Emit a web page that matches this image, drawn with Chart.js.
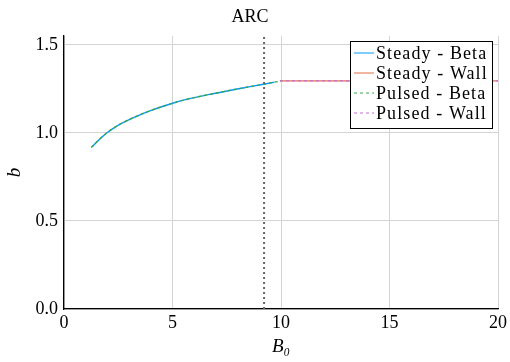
<!DOCTYPE html>
<html>
<head>
<meta charset="utf-8">
<script src="https://cdn.jsdelivr.net/npm/chart.js@4/dist/chart.umd.min.js"></script>
<style>
  html, body { margin: 0; padding: 0; background: #fff; }
  #wrap { width: 510px; height: 362px; }
</style>
</head>
<body>
<div id="wrap"><canvas id="arc"></canvas></div>
<script>
// data
var betaX   = [1.26, 1.57, 1.91, 2.49, 3.26, 4.02, 5.0, 5.55, 6.85, 8.38, 9.2, 9.7, 10.0];
var betaY   = [0.918, 0.955, 0.994, 1.043, 1.090, 1.128, 1.168, 1.187, 1.222, 1.258, 1.276, 1.288, 1.294];
var wallX   = [9.95, 12.5, 15, 17.5, 20];
var wallY   = [1.295, 1.295, 1.295, 1.295, 1.295];
var vlineX  = [9.22, 9.22];
var vlineY  = [0, 1.55];
var xTicks  = [0, 5, 10, 15, 20];
var yTicks  = [0, 0.5, 1.0, 1.5];
var seriesNames = ['Steady - Beta', 'Steady - Wall', 'Pulsed - Beta', 'Pulsed - Wall'];

var FONT = "'Liberation Serif', 'DejaVu Serif', serif";

function pts(xs, ys) {
  return xs.map(function(x, i) { return {x: x, y: ys[i]}; });
}

// legend drawn inside the plot, top right
var legendBox = {
  id: 'legendBox',
  afterDatasetsDraw: function(chart) {
    var ctx = chart.ctx;
    var x0 = 350, y0 = 41, w = 142, h = 87;
    ctx.save();
    ctx.fillStyle = '#fff';
    ctx.fillRect(x0, y0, w, h);
    ctx.strokeStyle = '#000';
    ctx.lineWidth = 1;
    ctx.strokeRect(x0 + 0.5, y0 + 0.5, w, h);
    ctx.font = '18px ' + FONT;
    ctx.letterSpacing = '1.1px';
    ctx.textBaseline = 'middle';
    for (var i = 0; i < 4; i++) {
      var ds = chart.data.datasets[i];
      var y = y0 + 12 + i * 20;
      ctx.beginPath();
      ctx.strokeStyle = ds.borderColor;
      ctx.lineWidth = 1;
      ctx.setLineDash(ds.borderDash || []);
      ctx.moveTo(x0 + 4, y);
      ctx.lineTo(x0 + 24, y);
      ctx.stroke();
      ctx.setLineDash([]);
      ctx.fillStyle = '#000';
      ctx.fillText(ds.label, x0 + 26, y + 1);
    }
    ctx.restore();
  }
};

var ctx = document.getElementById('arc').getContext('2d');
var chart = new Chart(ctx, {
  type: 'scatter',
  data: {
    datasets: [
      { label: seriesNames[0], data: pts(betaX.slice(0, -1), betaY.slice(0, -1)), borderColor: '#009AFA', borderWidth: 1.4, order: 3, cubicInterpolationMode: 'monotone' },
      { label: seriesNames[1], data: pts(wallX, wallY), borderColor: '#E36F47', borderWidth: 1.4, order: 3 },
      { label: seriesNames[2], data: pts(betaX, betaY), borderColor: '#3EA44E', borderWidth: 1.4, borderDash: [3, 3], order: 2, cubicInterpolationMode: 'monotone' },
      { label: seriesNames[3], data: pts(wallX, wallY), borderColor: '#C371D2', borderWidth: 1.4, borderDash: [3, 3], order: 2 },
      { label: 'limit', data: pts(vlineX, vlineY), borderColor: '#666', borderWidth: 2, borderDash: [2, 3], order: 1 }
    ]
  },
  options: {
    responsive: true,
    maintainAspectRatio: false,
    animation: false,
    showLine: true,
    elements: { point: { radius: 0 } },
    layout: { padding: { right: 10, left: 0, bottom: 0 } },
    plugins: {
      legend: { display: false },
      tooltip: { enabled: false },
      title: {
        display: true,
        text: 'ARC',
        color: '#000',
        font: { family: FONT, size: 18, weight: 'normal', lineHeight: 1.2 },
        padding: { top: 6, bottom: 8.4 }
      }
    },
    scales: {
      x: {
        type: 'linear',
        min: 0, max: 20,
        afterBuildTicks: function(s) { s.ticks = xTicks.map(function(v) { return {value: v}; }); },
        afterFit: function(s) { s.height = 53; },
        grid: { color: '#d4d4d4', lineWidth: 1, drawTicks: false },
        border: { color: '#000', width: 1.3 },
        ticks: { color: '#000', padding: 3, font: { family: FONT, size: 18 }, maxRotation: 0 },
        title: { display: true, text: 'B₀', color: '#000', padding: { top: 1 }, font: { family: FONT, size: 19, style: 'italic' } }
      },
      y: {
        type: 'linear',
        min: 0, max: 1.55,
        afterBuildTicks: function(s) { s.ticks = yTicks.map(function(v) { return {value: v}; }); },
        afterFit: function(s) { s.width = 64; },
        grid: { color: '#d4d4d4', lineWidth: 1, drawTicks: false },
        border: { color: '#000', width: 1.3 },
        ticks: { color: '#000', padding: 6, font: { family: FONT, size: 18 }, callback: function(v) { return v.toFixed(1); } },
        title: { display: true, text: 'b', color: '#000', padding: { bottom: 4 }, font: { family: FONT, size: 19, style: 'italic' } }
      }
    }
  },
  plugins: [legendBox]
});
</script>
</body>
</html>
